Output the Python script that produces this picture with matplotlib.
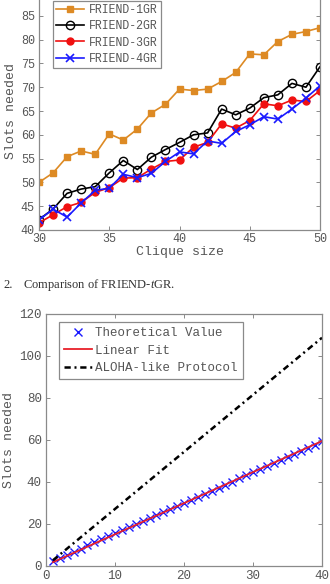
import numpy as np
import matplotlib.pyplot as plt

## data
# top chart: FRIEND-tGR comparison
clique = list(range(30, 51))
friend1 = [50.0, 52.0, 55.4, 56.6, 55.9, 60.2, 58.9, 61.2, 64.6, 66.4, 69.6,
           69.3, 69.6, 71.2, 73.1, 77.0, 76.8, 79.6, 81.1, 81.7, 82.5]
friend2 = [42.2, 44.4, 47.7, 48.6, 49.1, 52.0, 54.6, 52.7, 55.3, 56.9, 58.4,
           60.0, 60.4, 65.4, 64.2, 65.6, 67.8, 68.4, 70.8, 70.0, 74.3]
friend3 = [41.5, 43.2, 44.9, 45.8, 47.9, 48.9, 50.9, 51.0, 52.8, 54.4, 54.7,
           57.4, 58.4, 62.3, 61.4, 63.0, 66.5, 66.1, 67.3, 67.0, 69.3]
friend4 = [42.1, 44.4, 42.7, 45.7, 48.3, 48.8, 51.7, 51.0, 51.9, 54.4, 56.4,
           56.0, 58.7, 58.2, 60.7, 62.1, 63.8, 63.3, 65.4, 67.7, 70.3]
top_labels = ['FRIEND-1GR', 'FRIEND-2GR', 'FRIEND-3GR', 'FRIEND-4GR']

# bottom chart: theoretical value vs fit vs ALOHA
n = list(range(1, 41))
theory = [2.5, 4.0, 5.4, 6.9, 8.3, 9.8, 11.2, 12.7, 14.1, 15.6,
          17.0, 18.5, 19.9, 21.4, 22.8, 24.3, 25.7, 27.2, 28.6, 30.1,
          31.5, 33.0, 34.4, 35.9, 37.3, 38.8, 40.2, 41.7, 43.1, 44.6,
          46.0, 47.5, 48.9, 50.4, 51.8, 53.3, 54.7, 56.2, 57.6, 59.6]
fit_n = [1, 40]
fit_y = [1.8, 59.5]
aloha_n = [1, 40]
aloha_y = [2.7, 108.7]
bottom_labels = ['Theoretical Value', 'Linear Fit', 'ALOHA-like Protocol']

## style
plt.rcParams['font.family'] = ['Liberation Mono', 'DejaVu Sans']
plt.rcParams['mathtext.fontset'] = 'custom'
plt.rcParams['mathtext.rm'] = 'Liberation Serif'
plt.rcParams['mathtext.it'] = 'Liberation Serif:italic'
grey = '#555555'
spine = '#8a8a8a'
orange = '#DD8A24'

fig = plt.figure(figsize=(3.3, 5.84), dpi=100)

def style_axes(ax, fs):
    for s in ax.spines.values():
        s.set_color(spine)
        s.set_linewidth(0.9)
    ax.tick_params(direction='in', top=True, right=True, length=3,
                   width=0.7, color=spine, labelcolor=grey, labelsize=fs, pad=3)

## top chart
ax1 = fig.add_axes([39/330, 1 - 230/584, 281/330, 238/584])
ax1.plot(clique, friend1, '-s', color=orange, lw=1.2, ms=4, label=top_labels[0])
ax1.plot(clique, friend2, '-o', color='k', lw=1.2, ms=6, mfc='none', mew=1.0, label=top_labels[1])
ax1.plot(clique, friend3, '-o', color='#f01010', lw=1.2, ms=5, label=top_labels[2])
ax1.plot(clique, friend4, '-x', color='#1a1aff', lw=1.2, ms=6, mew=1.2, label=top_labels[3])
ax1.set_xlim(30, 50)
ax1.set_ylim(40, 90)
ax1.set_xticks([30, 35, 40, 45, 50])
ax1.set_yticks(range(40, 90, 5))
style_axes(ax1, 8.5)
ax1.tick_params(axis='x', pad=2)
ax1.set_xlabel('Clique size', color=grey, fontsize=9.5, labelpad=1)
ax1.set_ylabel('Slots needed', color=grey, fontsize=9.5, labelpad=3)
leg = ax1.legend(loc='upper left', bbox_to_anchor=(53/330, 1 - 1/584),
                 bbox_transform=fig.transFigure, fontsize=8.3, fancybox=False,
                 edgecolor=spine, framealpha=1, handlelength=2.4,
                 borderpad=0.3, labelspacing=0.35, handletextpad=0.4, borderaxespad=0)
leg.get_frame().set_linewidth(0.9)
for t in leg.get_texts():
    t.set_color(grey)

## caption
fig.text(3/330, 1 - 285/584, '2.', family='Liberation Serif', fontsize=9, color='#333333', va='center')
fig.text(23/330, 1 - 285/584, r'Comparison of FRIEND-$\mathit{t}$GR.', family='Liberation Serif',
         fontsize=9, color='#333333', va='center')

## bottom chart
ax2 = fig.add_axes([46/330, 1 - 566/584, 276/330, 252/584])
ax2.plot(n, theory, 'x', color='#1a1aff', ms=6, mew=1.0, label=bottom_labels[0])
ax2.plot(fit_n, fit_y, '-', color='#e8202a', lw=1.3, label=bottom_labels[1])
ax2.plot(aloha_n, aloha_y, '-.', color='k', lw=1.8, dashes=(2.5, 1.5, 0.8, 1.5),
         label=bottom_labels[2])
ax2.set_xlim(0, 40)
ax2.set_ylim(0, 120)
ax2.set_xticks([0, 10, 20, 30, 40])
ax2.set_yticks(range(0, 121, 20))
style_axes(ax2, 9)
ax2.set_xlabel('Clique size', color=grey, fontsize=9.5, labelpad=4)
ax2.set_ylabel('Slots needed', color=grey, fontsize=9.5, labelpad=3)
leg2 = ax2.legend(loc='upper left', bbox_to_anchor=(59/330, 1 - 322/584),
                  bbox_transform=fig.transFigure, fontsize=9, fancybox=False,
                  edgecolor=spine, framealpha=1, handlelength=2.2,
                  borderpad=0.4, labelspacing=0.45, handletextpad=0.3, borderaxespad=0)
leg2.get_frame().set_linewidth(0.9)
for t in leg2.get_texts():
    t.set_color(grey)

fig.savefig('out.png', dpi=100)
